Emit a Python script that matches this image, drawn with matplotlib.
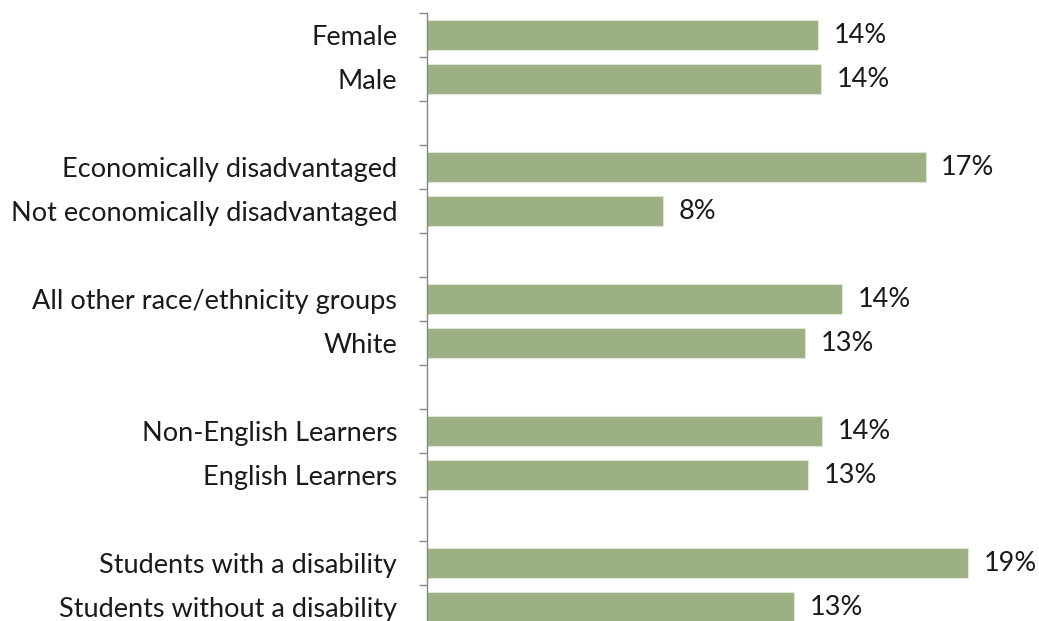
import matplotlib.pyplot as plt

# subgroup rates, blank entries are the gaps between groups
labels = ['Female', 'Male', '',
          'Economically disadvantaged', 'Not economically disadvantaged', '',
          'All other race/ethnicity groups', 'White', '',
          'Non-English Learners', 'English Learners', '',
          'Students with a disability', 'Students without a disability']
rates = [0.1365, 0.1375, None,
         0.174, 0.0824, None,
         0.145, 0.132, None,
         0.138, 0.133, None,
         0.189, 0.128]

plt.rcParams['font.family'] = ['Lato', 'DejaVu Sans']

W, H = 1039, 621
fig = plt.figure(figsize=(W / 100, H / 100), dpi=100)
# axes box in pixels: left edge 427, top 13, 44px per row
left, top, right, row = 427, 13, 1000, 44
n = len(labels)
ax = fig.add_axes([left / W, (H - top - n * row) / H, (right - left) / W, n * row / H])

bar_color = '#9cb083'
fs = 19.5
for i, v in enumerate(rates):
    if v is None:
        continue
    ax.barh(i, v, height=0.68, color=bar_color, edgecolor='#dfe6d6', linewidth=0.8)
    ax.text(v + 0.0055, i, f'{v * 100:.0f}%', va='center', ha='left', fontsize=fs, color='#1a1a1a')

ax.set_ylim(n - 0.5, -0.5)
ax.set_xlim(0, (right - left) / 2865)

ax.set_yticks([i for i in range(n)])
ax.set_yticklabels(labels, fontsize=fs, color='#1a1a1a')
ax.tick_params(axis='y', length=0, pad=21.5)
ax.set_yticks([i - 0.5 for i in range(n + 1)], minor=True)
ax.tick_params(axis='y', which='minor', length=6, width=1, color='#868686')
ax.set_xticks([])

for s in ['top', 'right', 'bottom']:
    ax.spines[s].set_visible(False)
ax.spines['left'].set_color('#868686')
ax.spines['left'].set_linewidth(1)

fig.savefig('out.png', dpi=100)
